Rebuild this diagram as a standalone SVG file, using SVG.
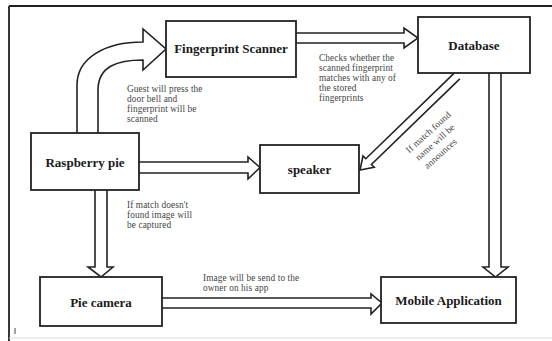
<svg xmlns="http://www.w3.org/2000/svg" width="552" height="341" viewBox="0 0 552 341">
<style>
.box{fill:#fff;stroke:#222;stroke-width:1.8}
.arr{fill:#fff;stroke:#222;stroke-width:1.6;stroke-linejoin:miter}
.lbl{font-family:"Liberation Serif","Times New Roman",serif;font-weight:bold;font-size:13px;fill:#1a1a1a;text-anchor:middle}
.note{font-family:"Liberation Serif","Times New Roman",serif;font-size:9.3px;letter-spacing:0.1px;fill:#444}
</style>
<rect x="0" y="0" width="552" height="341" fill="#fff"/>
<g id="frame">
<line x1="9" y1="6" x2="552" y2="6" stroke="#222" stroke-width="1.8"/>
<line x1="9" y1="6" x2="9" y2="341" stroke="#222" stroke-width="1.8"/>
<line x1="9" y1="338" x2="552" y2="338" stroke="#ddd" stroke-width="1"/>
<line x1="15" y1="328" x2="15" y2="334" stroke="#444" stroke-width="1"/>
</g>
<g id="connectors">
<path class="arr" d="M77,133 L77,85 C77,58 105,42 143,42 L143,29 L166,49 L143,70 L143,60 C118,60 98,66 98,90 L98,133"/>
<path class="arr" d="M296,33 L404,33 L404,28 L418,38 L404,48 L404,43 L296,43"/>
<path class="arr" d="M459.8,78.9 L371.4,164.5 L374.2,167.3 L360,170 L363,155.9 L365.8,158.7 L454.2,73.1"/>
<path class="arr" d="M139,162 L248,162 L248,157 L260,167.5 L248,179 L248,173 L139,173"/>
<path class="arr" d="M95,190 L95,267 L88,267 L101,277 L113,267 L107,267 L107,190"/>
<path class="arr" d="M489,73 L489,267 L483,267 L495.5,277 L508,267 L501,267 L501,73"/>
<path class="arr" d="M162,298 L371,298 L371,294 L382,303 L371,314 L371,308 L162,308"/>
</g>
<g id="fingerprint">
<rect class="box" x="166" y="21" width="130" height="56"/>
<text class="lbl" x="231" y="53">Fingerprint Scanner</text>
</g>
<g id="database">
<rect class="box" x="418" y="17" width="112" height="56"/>
<text class="lbl" x="474" y="50">Database</text>
</g>
<g id="raspberry">
<rect class="box" x="31" y="133" width="108" height="57"/>
<text class="lbl" x="85" y="167">Raspberry pie</text>
</g>
<g id="speaker">
<rect class="box" x="260" y="145" width="99" height="48"/>
<text class="lbl" x="309.5" y="174">speaker</text>
</g>
<g id="camera">
<rect class="box" x="40" y="277" width="122" height="49"/>
<text class="lbl" x="101" y="307">Pie camera</text>
</g>
<g id="mobile">
<rect class="box" x="381" y="277" width="135" height="46"/>
<text class="lbl" x="448.5" y="305">Mobile Application</text>
</g>
<g id="labels">
<text class="note" x="127" y="92">Guest will press the</text>
<text class="note" x="127" y="102">door bell and</text>
<text class="note" x="127" y="112">fingerprint will be</text>
<text class="note" x="127" y="122">scanned</text>
<text class="note" x="319" y="61">Checks whether the</text>
<text class="note" x="319" y="71">scanned fingerprint</text>
<text class="note" x="319" y="81">matches with any of</text>
<text class="note" x="319" y="91">the stored</text>
<text class="note" x="319" y="101">fingerprints</text>
<text class="note" x="127" y="208">If match doesn't</text>
<text class="note" x="127" y="218">found image will</text>
<text class="note" x="127" y="228">be captured</text>
<text class="note" x="203" y="281">Image will be send to the</text>
<text class="note" x="203" y="291">owner on his app</text>
<g transform="translate(434,142) rotate(-42)">
<text class="note" x="-26" y="-8">If match found</text>
<text class="note" x="-24" y="4">name will be</text>
<text class="note" x="-23" y="16">announces</text>
</g>
</g>
</svg>
